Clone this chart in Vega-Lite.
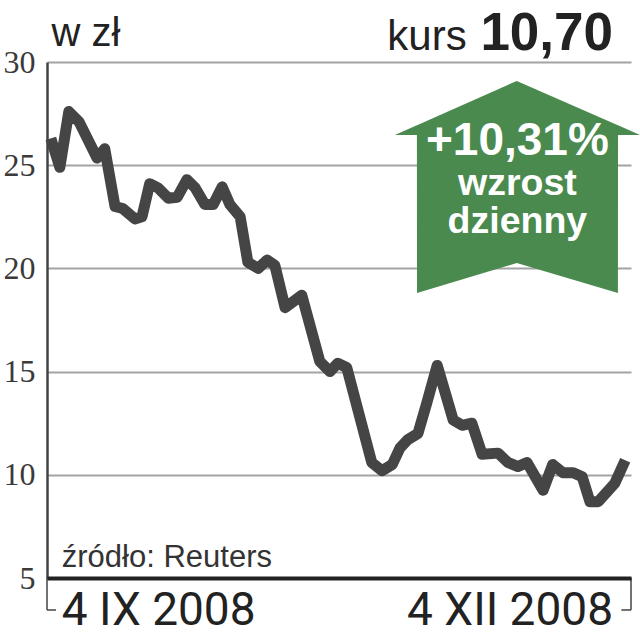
{
  "$schema": "https://vega.github.io/schema/vega-lite/v6.json",
  "width": 584,
  "height": 516,
  "autosize": {"type": "none"},
  "padding": {"left": 47, "top": 62, "right": 9, "bottom": 62},
  "background": "white",
  "config": {"view": {"stroke": null}, "font": "Liberation Sans"},
  "datasets": {
    "notowania": [
      {"dzien": 0.6, "kurs": 26.3}, {"dzien": 2.0, "kurs": 24.9}, {"dzien": 3.4, "kurs": 27.6},
      {"dzien": 5.0, "kurs": 27.1}, {"dzien": 7.8, "kurs": 25.35}, {"dzien": 9.0, "kurs": 25.8},
      {"dzien": 10.6, "kurs": 23.0}, {"dzien": 11.8, "kurs": 22.9}, {"dzien": 13.7, "kurs": 22.4},
      {"dzien": 14.8, "kurs": 22.5}, {"dzien": 16.0, "kurs": 24.1}, {"dzien": 17.3, "kurs": 23.9},
      {"dzien": 18.9, "kurs": 23.4}, {"dzien": 20.3, "kurs": 23.45}, {"dzien": 21.8, "kurs": 24.3},
      {"dzien": 23.1, "kurs": 23.9}, {"dzien": 24.6, "kurs": 23.1}, {"dzien": 25.9, "kurs": 23.1},
      {"dzien": 27.3, "kurs": 23.95}, {"dzien": 28.5, "kurs": 23.1}, {"dzien": 30.1, "kurs": 22.5},
      {"dzien": 31.3, "kurs": 20.3}, {"dzien": 32.9, "kurs": 20.0}, {"dzien": 34.3, "kurs": 20.4},
      {"dzien": 35.5, "kurs": 20.15}, {"dzien": 37.1, "kurs": 18.1}, {"dzien": 39.7, "kurs": 18.7},
      {"dzien": 42.5, "kurs": 15.5}, {"dzien": 44.1, "kurs": 15.0}, {"dzien": 45.3, "kurs": 15.4},
      {"dzien": 46.7, "kurs": 15.2}, {"dzien": 50.6, "kurs": 10.6}, {"dzien": 52.2, "kurs": 10.2},
      {"dzien": 53.8, "kurs": 10.5}, {"dzien": 55.0, "kurs": 11.3}, {"dzien": 56.2, "kurs": 11.7},
      {"dzien": 57.8, "kurs": 12.0}, {"dzien": 59.2, "kurs": 13.5}, {"dzien": 60.8, "kurs": 15.3},
      {"dzien": 63.3, "kurs": 12.65}, {"dzien": 64.7, "kurs": 12.4}, {"dzien": 66.2, "kurs": 12.5},
      {"dzien": 67.8, "kurs": 11.0}, {"dzien": 70.3, "kurs": 11.05}, {"dzien": 71.8, "kurs": 10.6},
      {"dzien": 73.4, "kurs": 10.4}, {"dzien": 74.8, "kurs": 10.6}, {"dzien": 77.3, "kurs": 9.25},
      {"dzien": 78.8, "kurs": 10.5}, {"dzien": 80.4, "kurs": 10.1}, {"dzien": 82.0, "kurs": 10.1},
      {"dzien": 83.4, "kurs": 9.9}, {"dzien": 84.6, "kurs": 8.7}, {"dzien": 85.9, "kurs": 8.7},
      {"dzien": 88.5, "kurs": 9.6}, {"dzien": 90.1, "kurs": 10.7}
    ],
    "strzalka": [
      {"dzien": 54.2, "gora": 26.46, "dol": 26.46},
      {"dzien": 57.64, "gora": 26.93, "dol": 26.46},
      {"dzien": 57.66, "gora": 26.94, "dol": 18.81},
      {"dzien": 73.2, "gora": 29.08, "dol": 20.26},
      {"dzien": 88.96, "gora": 26.94, "dol": 18.81},
      {"dzien": 88.98, "gora": 26.93, "dol": 26.46},
      {"dzien": 92.4, "gora": 26.46, "dol": 26.46}
    ],
    "nawiasy": [
      {"dzien": 0, "dzien2": 0, "kurs": 5, "kurs2": 3.45},
      {"dzien": 0, "dzien2": 1.4, "kurs": 3.45, "kurs2": 3.45},
      {"dzien": 91, "dzien2": 91, "kurs": 5, "kurs2": 3.45},
      {"dzien": 89.5, "dzien2": 91, "kurs": 3.45, "kurs2": 3.45}
    ]
  },
  "encoding": {
    "x": {"field": "dzien", "type": "quantitative", "scale": {"domain": [0, 91], "nice": false, "zero": false}},
    "y": {"field": "kurs", "type": "quantitative", "scale": {"domain": [5, 30], "nice": false, "zero": false}}
  },
  "layer": [
    {
      "data": {"name": "notowania"},
      "mark": {"type": "line", "stroke": "#454545", "strokeWidth": 11, "strokeJoin": "round", "strokeCap": "butt"},
      "encoding": {
        "x": {"field": "dzien", "type": "quantitative", "scale": {"domain": [0, 91], "nice": false, "zero": false},
          "axis": {"orient": "bottom", "title": null, "labels": false, "ticks": false, "grid": false, "domain": true, "domainColor": "#222222", "domainWidth": 4, "zindex": 1}},
        "y": {"field": "kurs", "type": "quantitative", "scale": {"domain": [5, 30], "nice": false, "zero": false},
          "axis": {"orient": "left", "title": null, "values": [5, 10, 15, 20, 25, 30], "grid": true, "gridColor": "#a3a3a3", "gridWidth": 2,
            "ticks": false, "domain": true, "domainColor": "#444444", "domainWidth": 2.5, "labelPadding": 12,
            "labelFont": "Liberation Sans Narrow", "labelFontSize": 32, "labelColor": "#3a3a3a", "labelBaseline": "middle"}}
      }
    },
    {
      "data": {"name": "strzalka"},
      "mark": {"type": "area", "fill": "#4a8a4e", "fillOpacity": 1, "opacity": 1, "interpolate": "linear"},
      "encoding": {
        "x": {"field": "dzien", "type": "quantitative"},
        "y": {"field": "gora", "type": "quantitative", "stack": null},
        "y2": {"field": "dol"}
      }
    },
    {
      "data": {"values": [{"dzien": 73.3, "kurs": 25.49, "tekst": "+10,31%"}]},
      "mark": {"type": "text", "font": "Liberation Sans", "fontWeight": "bold", "fontSize": 46, "color": "white", "align": "center", "baseline": "alphabetic"},
      "encoding": {"text": {"field": "tekst"}}
    },
    {
      "data": {"values": [{"dzien": 73.3, "kurs": 23.56, "tekst": "wzrost"}, {"dzien": 73.3, "kurs": 21.71, "tekst": "dzienny"}]},
      "mark": {"type": "text", "font": "Liberation Sans", "fontWeight": "bold", "fontSize": 37.5, "color": "white", "align": "center", "baseline": "alphabetic"},
      "encoding": {"text": {"field": "tekst"}}
    },
    {
      "data": {"values": [{"dzien": 0.7, "kurs": 30.78, "tekst": "w zł"}]},
      "mark": {"type": "text", "font": "Liberation Sans", "fontSize": 40, "color": "#222222", "align": "left", "baseline": "alphabetic"},
      "encoding": {"text": {"field": "tekst"}}
    },
    {
      "data": {"values": [{"dzien": 65.4, "kurs": 30.6, "tekst": "kurs"}]},
      "mark": {"type": "text", "font": "Liberation Sans", "fontSize": 42, "color": "#222222", "align": "right", "baseline": "alphabetic"},
      "encoding": {"text": {"field": "tekst"}}
    },
    {
      "data": {"values": [{"dzien": 88.2, "kurs": 30.6, "tekst": "10,70"}]},
      "mark": {"type": "text", "font": "Liberation Sans", "fontWeight": "bold", "fontSize": 53, "color": "#222222", "align": "right", "baseline": "alphabetic"},
      "encoding": {"text": {"field": "tekst"}}
    },
    {
      "data": {"values": [{"dzien": 2.3, "kurs": 5.53, "tekst": "źródło: Reuters"}]},
      "mark": {"type": "text", "font": "Liberation Sans", "fontSize": 31, "color": "#333333", "align": "left", "baseline": "alphabetic"},
      "encoding": {"text": {"field": "tekst"}}
    },
    {
      "data": {"values": [{"dzien": 2.3, "kurs": 2.72, "tekst": "4 IX 2008"}]},
      "mark": {"type": "text", "font": "Roboto", "fontSize": 46, "color": "#222222", "align": "left", "baseline": "alphabetic"},
      "encoding": {"text": {"field": "tekst"}}
    },
    {
      "data": {"values": [{"dzien": 88.2, "kurs": 2.72, "tekst": "4 XII 2008"}]},
      "mark": {"type": "text", "font": "Roboto", "fontSize": 46, "color": "#222222", "align": "right", "baseline": "alphabetic"},
      "encoding": {"text": {"field": "tekst"}}
    },
    {
      "data": {"name": "nawiasy"},
      "mark": {"type": "rule", "color": "#444444", "strokeWidth": 1.5},
      "encoding": {
        "x2": {"field": "dzien2"},
        "y2": {"field": "kurs2"}
      }
    }
  ]
}
